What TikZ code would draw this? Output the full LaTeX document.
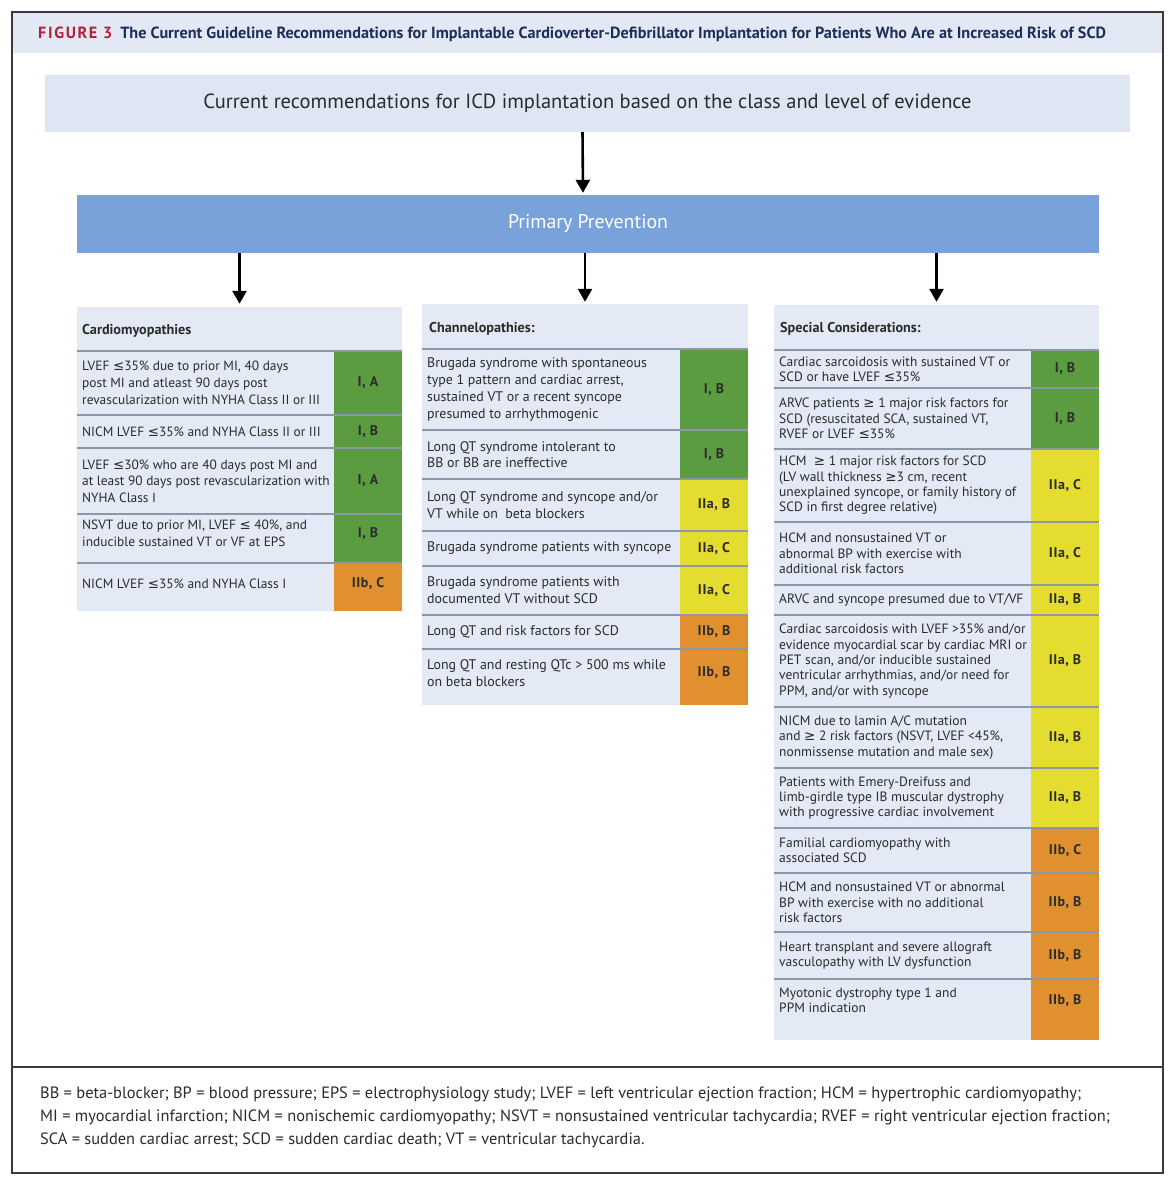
\documentclass[tikz,border=0pt]{standalone}
\usepackage{fontspec}
\setmainfont{PT Sans}
\newfontfamily\symf{DejaVu Sans}
\usetikzlibrary{arrows.meta}
\definecolor{framec}{HTML}{3A3A3A}
\definecolor{titlebg}{HTML}{E2E9F4}
\definecolor{figred}{HTML}{B3203A}
\definecolor{navy}{HTML}{1E2D5A}
\definecolor{topbg}{HTML}{DEE6F3}
\definecolor{primc}{HTML}{78A2D9}
\definecolor{panelbg}{HTML}{E3E9F5}
\definecolor{grnc}{HTML}{5C9C40}
\definecolor{ylwc}{HTML}{E4DC2F}
\definecolor{orgc}{HTML}{E0902F}
\definecolor{sepc}{HTML}{8D97A6}
\definecolor{txtc}{HTML}{2B2B2B}
\newcommand\lsym{{\symf ≤}}
\newcommand\gsym{{\symf ≥}}
\newcommand\tblrow[9]{%
  \node[clscell, fill=#9, minimum width={(#4-#3)*1pt}, minimum height={(#6-#5)*1pt}] (#1c) at ({(#3+#4)/2},{(#5+#6)/2}) {#8};
  \node[celltxt] (#1t) at ({#2+5},{(#5+#6)/2}) {#7};
}
\begin{document}
\begin{tikzpicture}[x=1pt,y=-1pt,
  arr/.style={line width=2.6pt, -{Triangle[length=13pt,width=14pt]}},
  panel/.style={fill=panelbg, draw=none, inner sep=0pt},
  hdr/.style={anchor=west, inner sep=0pt, font=\bfseries\fontsize{14.2}{16}\selectfont, text=txtc},
  celltxt/.style={anchor=west, align=left, inner sep=0pt, font=\fontsize{13.4}{16.7}\selectfont, text=txtc},
  clscell/.style={draw=none, inner sep=0pt, font=\bfseries\fontsize{14}{15}\selectfont\addfontfeature{LetterSpace=4}, text=txtc},
  sep/.style={draw=sepc, line width=1.6pt}
]
\useasboundingbox (0,0) rectangle (1170,1193);
\fill[white] (0,0) rectangle (1170,1193);
% title band
\fill[titlebg] (12,12) rectangle (1163,53);
\node[anchor=west, inner sep=0pt, font=\bfseries\fontsize{16.2}{18}\selectfont] (title) at (38,34)
  {{\color{figred}\addfontfeature{LetterSpace=10}FIGURE 3}\hspace{8pt}{\color{navy}The Current Guideline Recommendations for Implantable Cardioverter-Defibrillator Implantation for Patients Who Are at Increased Risk of SCD}};
% frame
\draw[framec, line width=1.5pt] (12,12) rectangle (1163,1173);
\draw[framec, line width=1.5pt] (12,1067) -- (1163,1067);
% top boxes
\node[fill=topbg, minimum width=1085pt, minimum height=57pt, inner sep=0pt, font=\fontsize{20.5}{23}\selectfont, text=txtc] (top) at (587.5,103.5)
  {Current recommendations for ICD implantation based on the class and level of evidence};
\node[fill=primc, minimum width=1022pt, minimum height=58pt, inner sep=0pt, font=\fontsize{19.8}{22}\selectfont, text=white] (prim) at (588,224)
  {Primary Prevention};
\draw[arr] ([xshift=-5pt]top.south) -- ([xshift=-5pt,yshift=2pt]prim.north);
% panels
\node[panel, minimum width=325pt, minimum height=304pt] (pL) at (239.5,459) {};
\node[panel, minimum width=326pt, minimum height=401pt] (pM) at (585,504.5) {};
\node[panel, minimum width=325pt, minimum height=735pt] (pR) at (936.5,672.5) {};
\draw[arr, shorten >=3pt] (prim.south -| pL.north) -- (pL.north);
\draw[arr, shorten >=2pt] (prim.south -| pM.north) -- (pM.north);
\draw[arr, shorten >=3pt] (prim.south -| pR.north) -- (pR.north);
\node[hdr] (hL) at (82,331) {Cardiomyopathies};
\node[hdr] (hM) at (429,329) {Channelopathies:};
\node[hdr] (hR) at (780,329) {Special Considerations:};
% left rows
\tblrow{l1}{77}{334}{402}{351}{415}{LVEF \lsym35\% due to prior MI, 40 days\\post MI and atleast 90 days post\\revascularization with NYHA Class II or III}{I, A}{grnc}
\tblrow{l2}{77}{334}{402}{415}{448}{NICM LVEF \lsym35\% and NYHA Class II or III}{I, B}{grnc}
\tblrow{l3}{77}{334}{402}{448}{514}{LVEF \lsym30\% who are 40 days post MI and\\at least 90 days post revascularization with\\NYHA Class I}{I, A}{grnc}
\tblrow{l4}{77}{334}{402}{514}{553}{NSVT due to prior MI, LVEF \lsym{} 40\%, and\\inducible sustained VT or VF at EPS}{I, B}{grnc}
\fill[grnc] (334,552) rectangle (402,563);
\tblrow{l5}{77}{334}{402}{563}{605}{NICM LVEF \lsym35\% and NYHA Class I}{IIb, C}{orgc}
\fill[orgc] (334,604) rectangle (402,611);
\foreach \yy in {351,415,448,514,563} \draw[sep] (77,\yy) -- (402,\yy);
% middle rows
\tikzset{celltxt/.append style={font=\fontsize{13.9}{16.7}\selectfont}}
\tblrow{m1}{422}{680}{748}{349}{430}{Brugada syndrome with spontaneous\\type 1 pattern and cardiac arrest,\\sustained VT or a recent syncope\\presumed to arrhythmogenic}{I, B}{grnc}
\tblrow{m2}{422}{680}{748}{430}{479}{Long QT syndrome intolerant to\\BB or BB are ineffective}{I, B}{grnc}
\tblrow{m3}{422}{680}{748}{479}{531}{Long QT syndrome and syncope and/or\\VT while on\ \ beta blockers}{IIa, B}{ylwc}
\tblrow{m4}{422}{680}{748}{531}{566}{Brugada syndrome patients with syncope}{IIa, C}{ylwc}
\tblrow{m5}{422}{680}{748}{566}{615}{Brugada syndrome patients with\\documented VT without SCD}{IIa, C}{ylwc}
\tblrow{m6}{422}{680}{748}{615}{649}{Long QT and risk factors for SCD}{IIb, B}{orgc}
\tblrow{m7}{422}{680}{748}{649}{697}{Long QT and resting QTc > 500 ms while\\on beta blockers}{IIb, B}{orgc}
\fill[orgc] (680,696) rectangle (748,705);
\foreach \yy in {349,430,479,531,566,615,649} \draw[sep] (422,\yy) -- (748,\yy);
% right rows
\tikzset{celltxt/.append style={font=\fontsize{13.5}{15.3}\selectfont}}
\tblrow{r1}{774}{1031}{1099}{350}{388}{Cardiac sarcoidosis with sustained VT or\\SCD or have LVEF \lsym35\%}{I, B}{grnc}
\tblrow{r2}{774}{1031}{1099}{388}{449}{ARVC patients \gsym{} 1 major risk factors for\\SCD (resuscitated SCA, sustained VT,\\RVEF or LVEF \lsym35\%}{I, B}{grnc}
\tblrow{r3}{774}{1031}{1099}{449}{522}{HCM\ \ \gsym{} 1 major risk factors for SCD\\(LV wall thickness \gsym3 cm, recent\\unexplained syncope, or family history of\\SCD in first degree relative)}{IIa, C}{ylwc}
\tblrow{r4}{774}{1031}{1099}{522}{585}{HCM and nonsustained VT or\\abnormal BP with exercise with\\additional risk factors}{IIa, C}{ylwc}
\tblrow{r5}{774}{1031}{1099}{585}{615}{ARVC and syncope presumed due to VT/VF}{IIa, B}{ylwc}
\tblrow{r6}{774}{1031}{1099}{615}{707}{Cardiac sarcoidosis with LVEF >35\% and/or\\evidence myocardial scar by cardiac MRI or\\PET scan, and/or inducible sustained\\ventricular arrhythmias, and/or need for\\PPM, and/or with syncope}{IIa, B}{ylwc}
\tblrow{r7}{774}{1031}{1099}{707}{768}{NICM due to lamin A/C mutation\\and \gsym{} 2 risk factors (NSVT, LVEF <45\%,\\nonmissense mutation and male sex)}{IIa, B}{ylwc}
\tblrow{r8}{774}{1031}{1099}{768}{828}{Patients with Emery-Dreifuss and\\limb-girdle type IB muscular dystrophy\\with progressive cardiac involvement}{IIa, B}{ylwc}
\tblrow{r9}{774}{1031}{1099}{828}{873}{Familial cardiomyopathy with\\associated SCD}{IIb, C}{orgc}
\tblrow{r10}{774}{1031}{1099}{873}{932}{HCM and nonsustained VT or abnormal\\BP with exercise with no additional\\risk factors}{IIb, B}{orgc}
\tblrow{r11}{774}{1031}{1099}{932}{979}{Heart transplant and severe allograft\\vasculopathy with LV dysfunction}{IIb, B}{orgc}
\tblrow{r12}{774}{1031}{1099}{979}{1022}{Myotonic dystrophy type 1 and\\PPM indication}{IIb, B}{orgc}
\fill[orgc] (1031,1021) rectangle (1099,1040);
\foreach \yy in {350,388,449,522,585,615,707,768,828,873,932,979} \draw[sep] (774,\yy) -- (1099,\yy);
% footer
\node[anchor=west, align=left, inner sep=0pt, font=\fontsize{16.4}{23}\selectfont, text=txtc] (foot) at (40,1117)
  {BB = beta-blocker; BP = blood pressure; EPS = electrophysiology study; LVEF = left ventricular ejection fraction; HCM = hypertrophic cardiomyopathy;\\
   MI = myocardial infarction; NICM = nonischemic cardiomyopathy; NSVT = nonsustained ventricular tachycardia; RVEF = right ventricular ejection fraction;\\
   SCA = sudden cardiac arrest; SCD = sudden cardiac death; VT = ventricular tachycardia.};
\end{tikzpicture}
\end{document}
